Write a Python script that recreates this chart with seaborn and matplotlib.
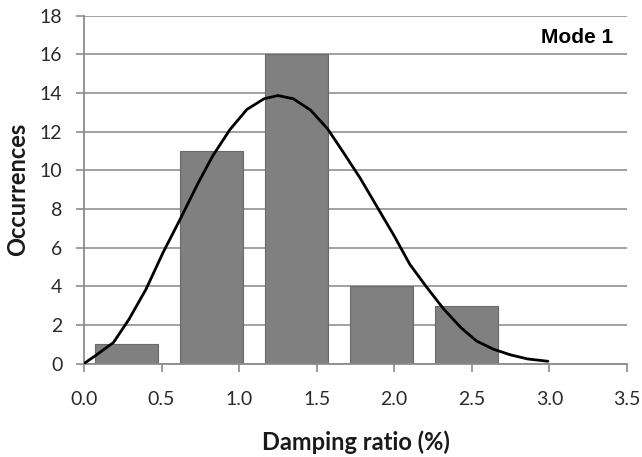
import numpy as np
import pandas as pd
import matplotlib
matplotlib.use("Agg")
import matplotlib.pyplot as plt
import seaborn as sns

# Histogram of damping ratios (bin centres, %) and their counts
bin_centers = [0.274, 0.822, 1.370, 1.918, 2.466]
occurrences = [1, 11, 16, 4, 3]

# Fitted distribution curve, sampled along the damping-ratio axis
curve_x = [0.00, 0.07, 0.19, 0.29, 0.40, 0.51, 0.62, 0.73, 0.83, 0.94,
           1.05, 1.16, 1.25, 1.35, 1.46, 1.57, 1.67, 1.78, 1.89, 2.00,
           2.10, 2.21, 2.32, 2.43, 2.53, 2.64, 2.75, 2.86, 2.99]
curve_y = [0.00, 0.39, 1.09, 2.29, 3.85, 5.75, 7.47, 9.25, 10.75, 12.10,
           13.15, 13.70, 13.87, 13.70, 13.12, 12.15, 10.95, 9.60, 8.10, 6.60,
           5.14, 3.94, 2.81, 1.86, 1.17, 0.74, 0.45, 0.24, 0.12]

x_ticks = [0.0, 0.5, 1.0, 1.5, 2.0, 2.5, 3.0, 3.5]
y_ticks = [0, 2, 4, 6, 8, 10, 12, 14, 16, 18]

sns.set_theme(style="white")
plt.rcParams["font.family"] = ["Lato", "DejaVu Sans"]

fig = plt.figure(figsize=(6.42, 4.57), dpi=100)
ax = fig.add_axes([0.1308, 0.2044, 0.8458, 0.7612])

bars = pd.DataFrame({"ratio": bin_centers, "count": occurrences})
sns.barplot(data=bars, x="ratio", y="count", native_scale=True, width=0.75,
            color="#808080", saturation=1, edgecolor="#6a6a6a", linewidth=0.8,
            ax=ax, zorder=2)

curve = pd.DataFrame({"x": curve_x, "y": curve_y})
sns.lineplot(data=curve, x="x", y="y", color="black", linewidth=2.0,
             ax=ax, zorder=3, solid_joinstyle="round", solid_capstyle="round")

ax.set_xlim(0, 3.5)
ax.set_ylim(0, 18)
ax.set_xticks(x_ticks)
ax.set_xticklabels([f"{v:.1f}" for v in x_ticks])
ax.set_yticks(y_ticks)

ax.yaxis.grid(True, color="#9a9a9a", linewidth=1.3, zorder=0)
ax.xaxis.grid(False)
ax.set_axisbelow(True)

for side in ("top", "right"):
    ax.spines[side].set_visible(False)
for side in ("left", "bottom"):
    ax.spines[side].set_color("#8c8c8c")
    ax.spines[side].set_linewidth(1.3)

ax.tick_params(axis="x", which="major", direction="out", length=6,
               width=1.2, color="#8c8c8c", pad=14, labelsize=14,
               labelcolor="#2a2a2a", bottom=True)
ax.tick_params(axis="y", which="major", direction="out", length=5.5,
               width=1.2, color="#8c8c8c", pad=10, labelsize=14,
               labelcolor="#2a2a2a", left=True)

ax.set_xlabel("Damping ratio (%)", fontsize=17, fontweight="bold",
              color="#1a1a1a", labelpad=16)
ax.set_ylabel("Occurrences", fontsize=17, fontweight="bold",
              color="#1a1a1a", labelpad=8)

ax.text(0.974, 0.9385, "Mode 1", transform=ax.transAxes, ha="right",
        va="center", fontsize=15, fontweight="bold", color="black",
        family=["Liberation Sans", "DejaVu Sans"])

fig.savefig("out.png", dpi=100)
